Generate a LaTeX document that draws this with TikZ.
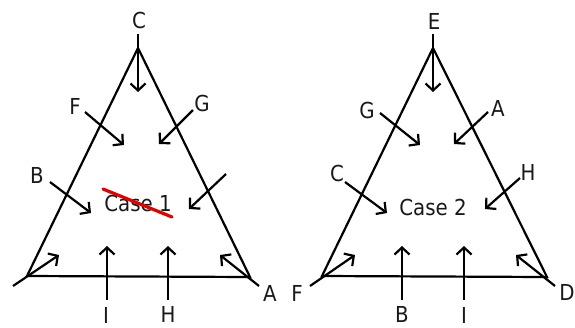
\documentclass[tikz,border=0pt]{standalone}
\usepackage{fontspec}
\setmainfont{DejaVu Sans Condensed}
\usetikzlibrary{arrows.meta}
\begin{document}
\begin{tikzpicture}[x=1pt,y=-1pt,
  edge/.style={line width=2.2pt},
  arr/.style={line width=2.2pt,-{Straight Barb[length=7pt,width=15pt,line width=2.2pt]}},
  lbl/.style={font=\fontsize{22}{24}\selectfont,inner sep=0pt,text=black!90},
  strike/.style={line width=3.2pt,color=red!90!black,line cap=round}]
\useasboundingbox (0,0) rectangle (575,327);
% ---- left triangle ----
\coordinate (L1) at (138,48);
\coordinate (L2) at (27,276);
\coordinate (L3) at (250,277);
\draw[edge] (L1) -- (L2) -- (L3) -- cycle;
\node[lbl] (case1) at (138,203) {Case 1};
\coordinate (s1) at (103,189);
\coordinate (s2) at (172,217);
\draw[strike] (s1) -- (s2);
\coordinate (cA) at (138,34); \coordinate (cB) at (138,92);
\draw[arr] (cA) -- (cB);
\node[lbl] (lC) at (139,20) {C};
\coordinate (fA) at (85,112); \coordinate (fB) at (124,145);
\draw[arr] (fA) -- (fB);
\node[lbl] (lF) at (75,106) {F};
\coordinate (gA) at (193,110); \coordinate (gB) at (159,144);
\draw[arr] (gA) -- (gB);
\node[lbl] (lG) at (202,103) {G};
\coordinate (bA) at (50,182); \coordinate (bB) at (91,213);
\draw[arr] (bA) -- (bB);
\node[lbl] (lB) at (37,175) {B};
\coordinate (uA) at (226,174); \coordinate (uB) at (189,209);
\draw[arr] (uA) -- (uB);
\coordinate (klA) at (13,286); \coordinate (klB) at (59,255);
\draw[arr] (klA) -- (klB);
\coordinate (iA) at (107,300); \coordinate (iB) at (107,246);
\draw[arr] (iA) -- (iB);
\node[lbl] (lI) at (106,315) {I};
\coordinate (hA) at (168,300); \coordinate (hB) at (168,246);
\draw[arr] (hA) -- (hB);
\node[lbl] (lH) at (168,314) {H};
\coordinate (krA) at (259,286); \coordinate (krB) at (220,255);
\draw[arr] (krA) -- (krB);
\node[lbl] (lA) at (270,293) {A};
% ---- right triangle ----
\coordinate (R1) at (433,48);
\coordinate (R2) at (322,276);
\coordinate (R3) at (547,277);
\draw[edge] (R1) -- (R2) -- (R3) -- cycle;
\node[lbl] (case2) at (433,207) {Case 2};
\coordinate (eA) at (433,34); \coordinate (eB) at (433,92);
\draw[arr] (eA) -- (eB);
\node[lbl] (rE) at (434,21) {E};
\coordinate (rgA) at (380,113); \coordinate (rgB) at (420,145);
\draw[arr] (rgA) -- (rgB);
\node[lbl] (rG) at (367,110) {G};
\coordinate (raA) at (488,112); \coordinate (raB) at (454,144);
\draw[arr] (raA) -- (raB);
\node[lbl] (rA) at (498,108) {A};
\coordinate (rcA) at (345,182); \coordinate (rcB) at (387,213);
\draw[arr] (rcA) -- (rcB);
\node[lbl] (rC) at (337,173) {C};
\coordinate (rhA) at (520,178); \coordinate (rhB) at (485,209);
\draw[arr] (rhA) -- (rhB);
\node[lbl] (rH) at (528,172) {H};
\coordinate (rfA) at (310,286); \coordinate (rfB) at (355,255);
\draw[arr] (rfA) -- (rfB);
\node[lbl] (rF) at (297,293) {F};
\coordinate (rbA) at (402,300); \coordinate (rbB) at (402,246);
\draw[arr] (rbA) -- (rbB);
\node[lbl] (rB) at (402,314) {B};
\coordinate (riA) at (464,300); \coordinate (riB) at (464,246);
\draw[arr] (riA) -- (riB);
\node[lbl] (rI) at (464,315) {I};
\coordinate (rdA) at (555,286); \coordinate (rdB) at (516,255);
\draw[arr] (rdA) -- (rdB);
\node[lbl] (rD) at (567,292) {D};
\end{tikzpicture}
\end{document}
